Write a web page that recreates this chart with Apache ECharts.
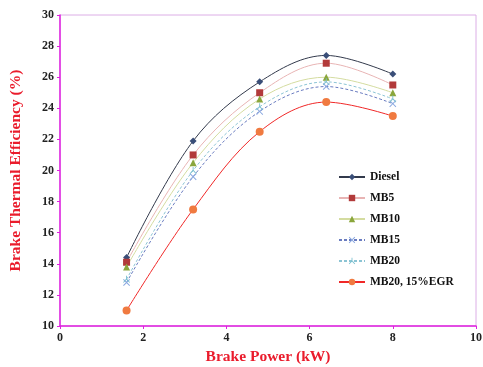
<!DOCTYPE html>
<html>
<head>
<meta charset="utf-8">
<script src="https://cdn.jsdelivr.net/npm/echarts@6/dist/echarts.min.js"></script>
<style>
  html, body { margin: 0; padding: 0; background: #fff; }
  #main { width: 483px; height: 367px; }
</style>
</head>
<body>
<div id="main"></div>
<script>
// brake power (kW)
var power = [1.6, 3.2, 4.8, 6.4, 8.0];
// brake thermal efficiency (%)
var diesel = [14.4, 21.9, 25.7, 27.4, 26.2];
var mb5 = [14.1, 21.0, 25.0, 26.9, 25.5];
var mb10 = [13.8, 20.5, 24.6, 26.0, 25.0];
var mb15 = [12.8, 19.6, 23.8, 25.4, 24.3];
var mb20 = [13.0, 20.0, 24.1, 25.7, 24.6];
var mb20egr = [11.0, 17.5, 22.5, 24.4, 23.5];
var names = ['Diesel', 'MB5', 'MB10', 'MB15', 'MB20', 'MB20, 15%EGR'];

var chart = echarts.init(document.getElementById('main'));

function pairs(arr) {
  var out = [];
  for (var i = 0; i < arr.length; i++) {
    out.push([power[i], arr[i]]);
  }
  return out;
}

// line colour, marker colour, marker, dashed
function mkSeries(name, arr, lineColor, dotColor, symbol, size, dashed) {
  return {
    name: name,
    type: 'line',
    smooth: 0.35,
    data: pairs(arr),
    symbol: symbol,
    symbolSize: size,
    lineStyle: { color: lineColor, width: 1, type: dashed ? [3, 2] : 'solid' },
    itemStyle: { color: dotColor },
    z: 3
  };
}

// filled outlines so the marks actually show
var X_PATH = 'path://M0,1 L1,0 L5,4 L9,0 L10,1 L6,5 L10,9 L9,10 L5,6 L1,10 L0,9 L4,5 Z';
var STAR_PATH = 'path://M4.4,0 L5.6,0 L5.6,4 L9.5,8.5 L8.6,9.3 L5,5.2 L1.4,9.3 L0.5,8.5 L4.4,4 Z';

var font = 'Liberation Serif';

var option = {
  animation: false,
  grid: {
    left: 60, top: 15, right: 7, bottom: 41,
    outerBoundsMode: 'none',
    show: true, borderColor: '#dcaee6', borderWidth: 1
  },
  legend: {
    orient: 'vertical',
    left: 333,
    top: 166,
    itemGap: 9,
    itemWidth: 26,
    itemHeight: 8,
    textStyle: { fontFamily: font, fontWeight: 'bold', fontSize: 11.5, color: '#111' },
    data: names
  },
  xAxis: {
    type: 'value',
    min: 0,
    max: 10,
    interval: 2,
    name: 'Brake Power (kW)',
    nameLocation: 'middle',
    nameGap: 22,
    nameTextStyle: { fontFamily: font, fontWeight: 'bold', fontSize: 15.5, color: '#ea1c2c' },
    axisLine: { lineStyle: { color: '#e020e0', width: 1.5 } },
    axisTick: { length: 3, lineStyle: { color: '#e020e0' } },
    axisLabel: { fontFamily: font, fontWeight: 'bold', fontSize: 12, color: '#222', margin: 6 },
    splitLine: { show: false }
  },
  yAxis: {
    type: 'value',
    min: 10,
    max: 30,
    interval: 2,
    name: 'Brake Thermal Efficiency (%)',
    nameLocation: 'middle',
    nameGap: 36,
    nameTextStyle: { fontFamily: font, fontWeight: 'bold', fontSize: 15.5, color: '#ea1c2c' },
    axisLine: { lineStyle: { color: '#e020e0', width: 1.5 } },
    axisTick: { length: 3, lineStyle: { color: '#e020e0' } },
    axisLabel: { fontFamily: font, fontWeight: 'bold', fontSize: 12, color: '#222', margin: 6 },
    splitLine: { show: false }
  },
  series: [
    mkSeries('Diesel', diesel, '#333a4c', '#3a4e78', 'diamond', 7, false),
    mkSeries('MB5', mb5, '#e8b4b4', '#b23a3a', 'rect', 7, false),
    mkSeries('MB10', mb10, '#d4dca0', '#8aa63c', 'triangle', 7, false),
    mkSeries('MB15', mb15, '#6a7cc0', '#8aa8e0', X_PATH, 7, true),
    mkSeries('MB20', mb20, '#8cc4d4', '#7cc0d0', STAR_PATH, 7, true),
    mkSeries('MB20, 15%EGR', mb20egr, '#f02828', '#f07a40', 'circle', 8, false)
  ]
};

chart.setOption(option);
</script>
</body>
</html>
